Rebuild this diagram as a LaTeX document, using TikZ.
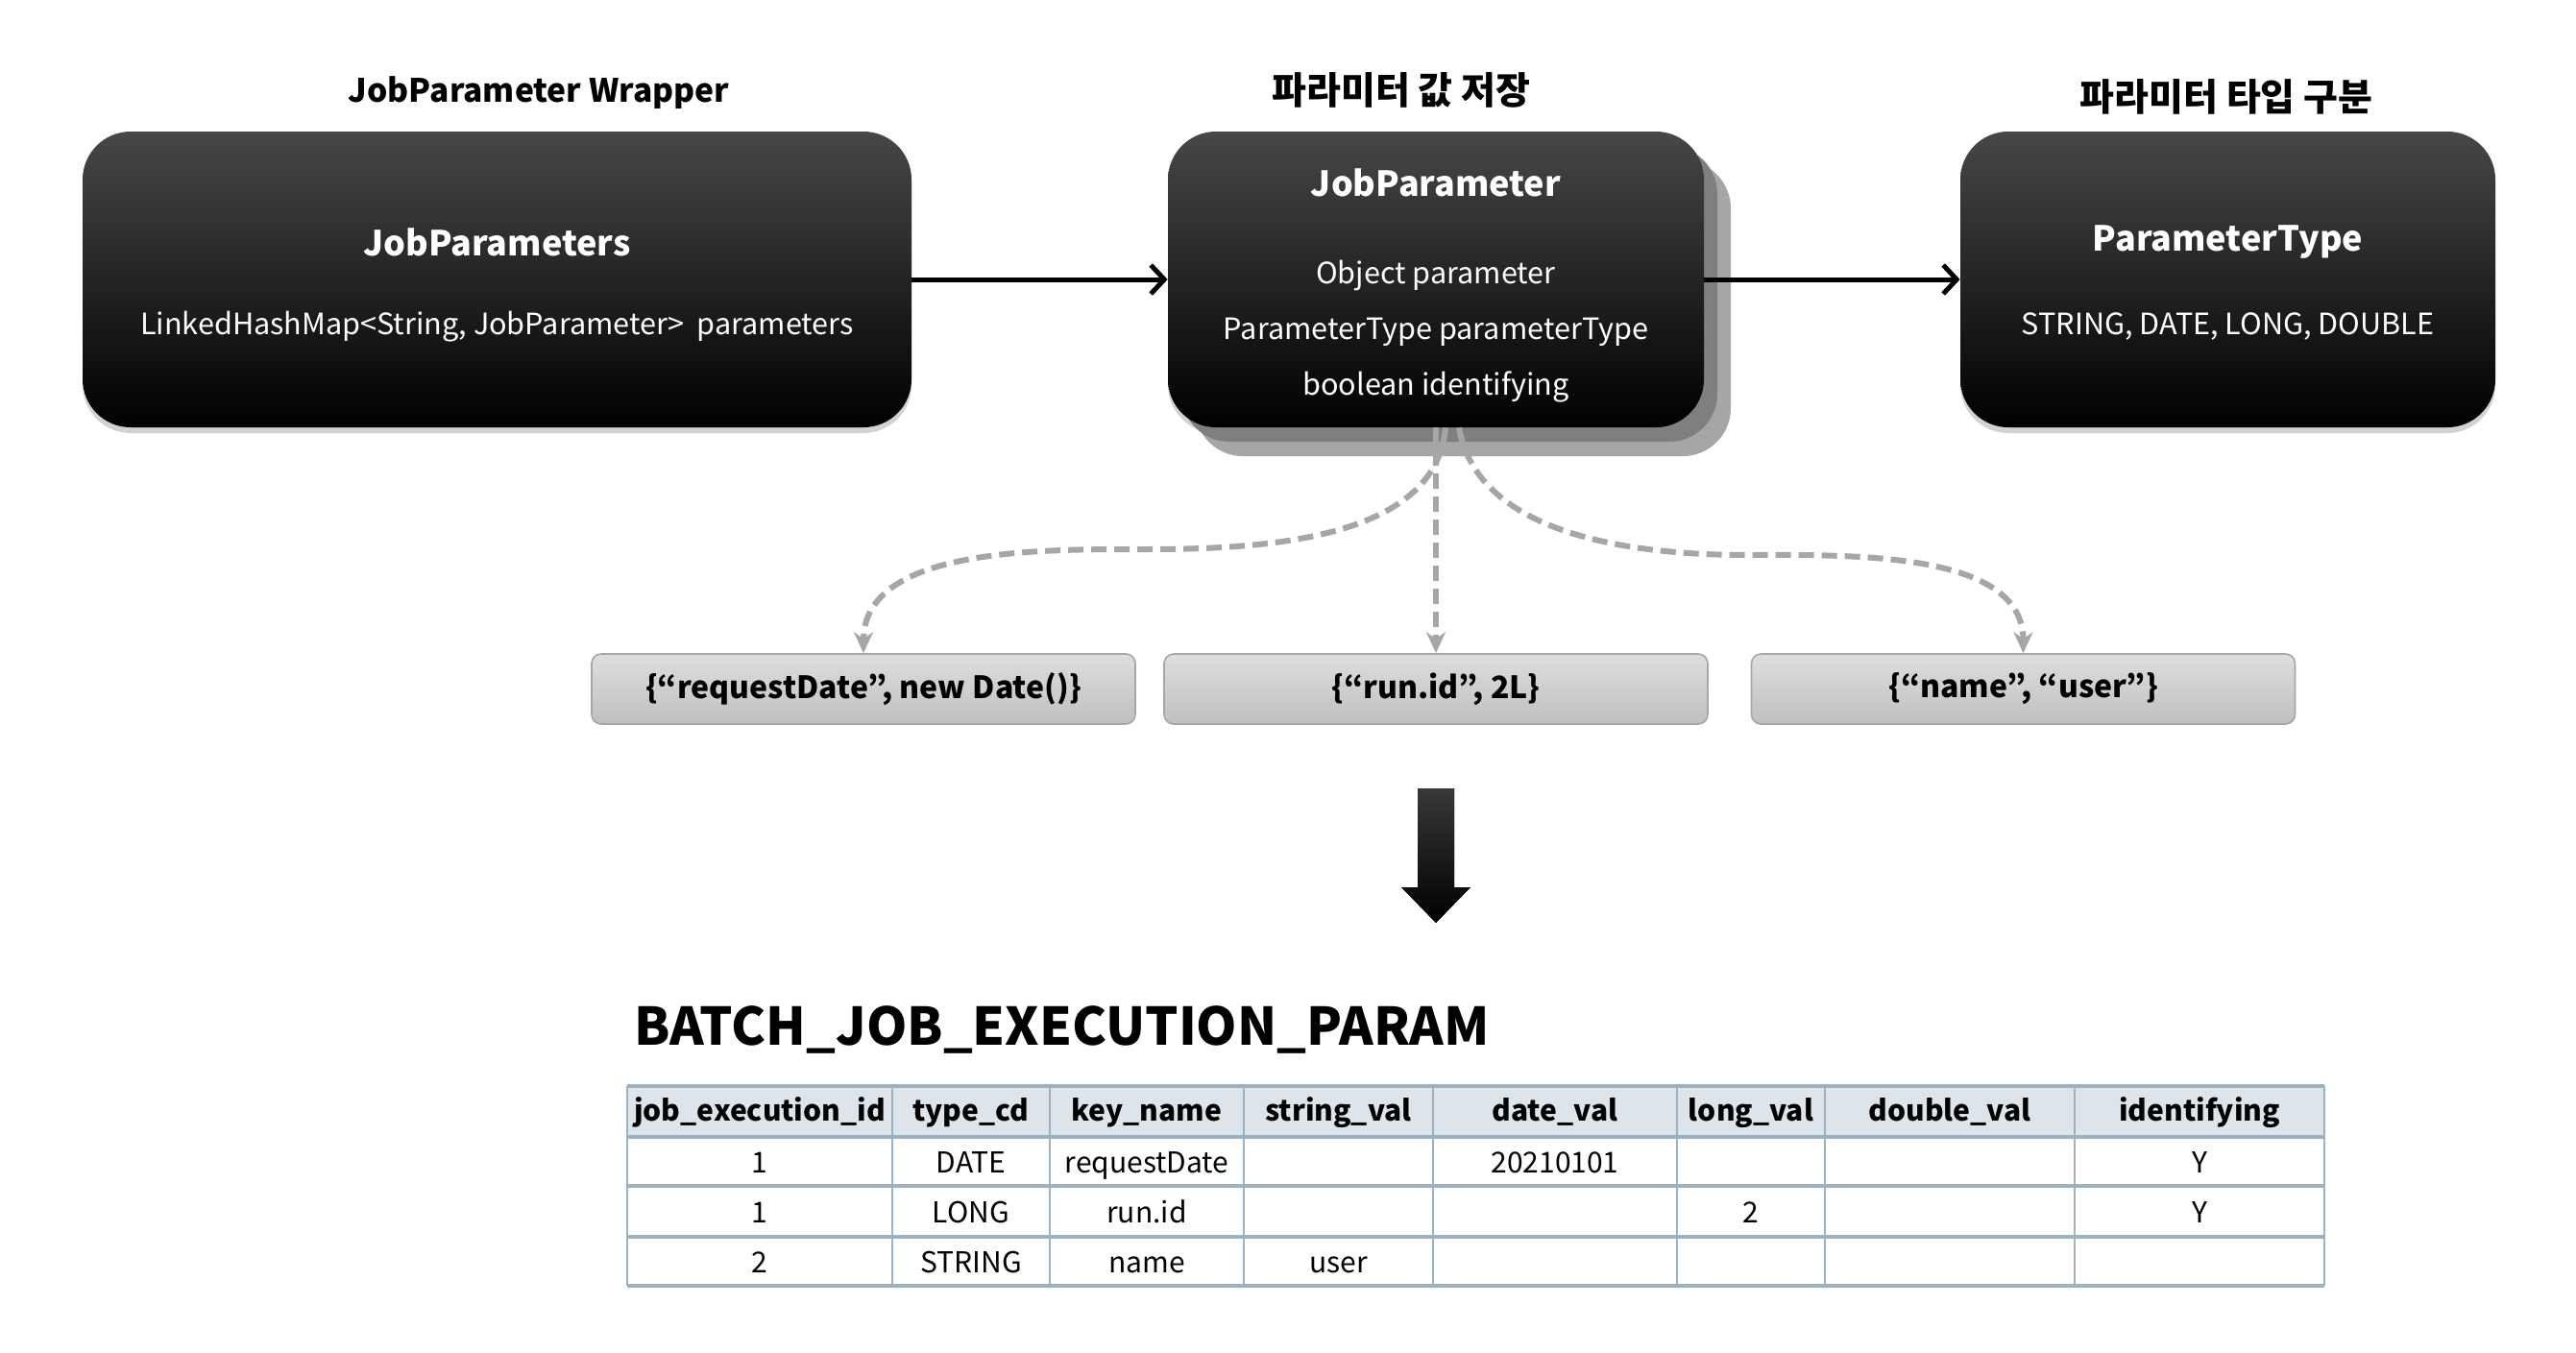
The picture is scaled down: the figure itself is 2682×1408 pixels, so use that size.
\documentclass[tikz,border=0pt]{standalone}
\usepackage{fontspec}
\setmainfont{Noto Sans CJK KR}
\usetikzlibrary{arrows.meta,shadows,calc}
\definecolor{tbl}{HTML}{9DB2C0}
\definecolor{hdr}{HTML}{DDE5EA}
\definecolor{dashg}{HTML}{A6A6A6}
\definecolor{layA}{HTML}{7F7F7F}
\definecolor{layB}{HTML}{A6A6A6}
\tikzset{
  blackbox/.style={rectangle, rounded corners=25pt, top color=black!72, middle color=black, bottom color=black, draw=none,
    drop shadow={shadow xshift=0pt, shadow yshift=-3pt, opacity=0.35}},
  layer/.style={rectangle, rounded corners=25pt, draw=none},
  toptitle/.style={font=\fontsize{16.8}{21}\selectfont\bfseries, text=black},
  kortitle/.style={font=\fontsize{19.5}{23}\selectfont\bfseries, text=black},
  boxhead/.style={font=\fontsize{18}{22}\selectfont\bfseries, text=white},
  boxbody/.style={font=\fontsize{15.3}{18}\selectfont, text=white},
  graybox/.style={rectangle, rounded corners=5pt, top color=black!13, bottom color=black!25, draw=black!35, line width=0.8pt,
    minimum width=283pt, minimum height=36.5pt, font=\fontsize{16}{19}\selectfont\bfseries, text=black},
  flow/.style={line width=2.5pt, -{Straight Barb[length=7pt,width=15pt]}},
  dflow/.style={line width=3pt, dashg, dash pattern=on 8pt off 4pt, -{Stealth[length=11pt,width=10pt]}},
  hcell/.style={font=\fontsize{15}{18}\selectfont\bfseries, inner sep=0pt, text height=11pt, text depth=3pt},
  bcell/.style={font=\fontsize{15}{18}\selectfont, inner sep=0pt, text height=11pt, text depth=3pt},
}
\begin{document}
\begin{tikzpicture}[x=0.5pt,y=-0.5pt]
\useasboundingbox[fill=white] (0,0) rectangle (2682,1408);

% titles
\node[toptitle] (t1) at (561,97) {JobParameter Wrapper};
\node[kortitle] (t2) at (1459,94) {파라미터 값 저장};
\node[kortitle] (t3) at (2318,101) {파라미터 타입 구분};

% box 1
\node[blackbox, minimum width=431.5pt, minimum height=154pt] (b1) at (517.5,291) {};
\node[boxhead] (b1h) at (517.5,252) {JobParameters};
\node[boxbody] (b1b) at (517.5,340) {LinkedHashMap<String, JobParameter>\ \ parameters};

% box 2 with stacked layers
\node[layer, fill=layB, minimum width=279pt, minimum height=154pt] (b2c) at (1523,321) {};
\node[layer, fill=layA, minimum width=279pt, minimum height=154pt] (b2b) at (1509,306) {};
\node[blackbox, minimum width=279pt, minimum height=154pt] (b2) at (1495,291) {};
\node[boxhead] (b2h) at (1495,190) {JobParameter};
\node[boxbody] (b2l1) at (1495,287) {Object parameter};
\node[boxbody] (b2l2) at (1495,346) {ParameterType parameterType};
\node[boxbody] (b2l3) at (1495,403) {boolean identifying};

% box 3
\node[blackbox, minimum width=278.5pt, minimum height=154pt] (b3) at (2319.5,291) {};
\node[boxhead] (b3h) at (2319.5,252) {ParameterType};
\node[boxbody] (b3b) at (2319.5,340) {STRING, DATE, LONG, DOUBLE};

\draw[flow] (b1.east) -- (b2.west);
\draw[flow] (b2.east) -- (b3.west);

% gray boxes
\node[graybox] (g1) at (899,717.5) {\{“requestDate”, new Date()\}};
\node[graybox] (g2) at (1495,717.5) {\{“run.id”, 2L\}};
\node[graybox] (g3) at (2106.5,717.5) {\{“name”, “user”\}};

\coordinate (sl) at ($(b2.south)+(5pt,0)$);
\coordinate (sr) at ($(b2.south)+(12pt,0)$);
\coordinate (ml) at (1190,572);
\coordinate (mr) at (1820,578);
\draw[dflow] (sl) to[out=-95,in=0,looseness=0.9] (ml) to[out=180,in=90,looseness=0.9] (g1.north);
\draw[dflow] (b2.south) -- (g2.north);
\draw[dflow] (sr) to[out=-80,in=180,looseness=0.9] (mr) to[out=0,in=90,looseness=0.9] (g3.north);

% big arrow
\fill[top color=black!78, bottom color=black]
  (1476,821) -- (1514,821) -- (1514,924) -- (1531,924) -- (1495,961) -- (1459,924) -- (1476,924) -- cycle;

% table title
\node[anchor=west, font=\fontsize{27}{32}\selectfont\bfseries, inner sep=0pt] (tt) at (660,1072) {BATCH\_JOB\_EXECUTION\_PARAM};

% table
\fill[hdr] (653,1131) rectangle (2420,1184);
\foreach \x in {653,929,1093,1295,1492,1746,1900,2160,2420}
  \draw[tbl, line width=1.2pt] (\x,1131) -- (\x,1339);
\foreach \y in {1131,1184,1235,1288,1339}
  \draw[tbl, line width=2pt] (653,\y) -- (2420,\y);

\node[hcell] (h1) at (791,1159) {job\_execution\_id};
\node[hcell] (h2) at (1011,1159) {type\_cd};
\node[hcell] (h3) at (1194,1159) {key\_name};
\node[hcell] (h4) at (1393.5,1159) {string\_val};
\node[hcell] (h5) at (1619,1159) {date\_val};
\node[hcell] (h6) at (1823,1159) {long\_val};
\node[hcell] (h7) at (2030,1159) {double\_val};
\node[hcell] (h8) at (2290,1159) {identifying};

\node[bcell] (r1c1) at (791,1213) {1};
\node[bcell] (r1c2) at (1011,1213) {DATE};
\node[bcell] (r1c3) at (1194,1213) {requestDate};
\node[bcell] (r1c5) at (1619,1213) {20210101};
\node[bcell] (r1c8) at (2290,1213) {Y};

\node[bcell] (r2c1) at (791,1265) {1};
\node[bcell] (r2c2) at (1011,1265) {LONG};
\node[bcell] (r2c3) at (1194,1265) {run.id};
\node[bcell] (r2c6) at (1823,1265) {2};
\node[bcell] (r2c8) at (2290,1265) {Y};

\node[bcell] (r3c1) at (791,1317) {2};
\node[bcell] (r3c2) at (1011,1317) {STRING};
\node[bcell] (r3c3) at (1194,1317) {name};
\node[bcell] (r3c4) at (1393.5,1317) {user};
\end{tikzpicture}
\end{document}
